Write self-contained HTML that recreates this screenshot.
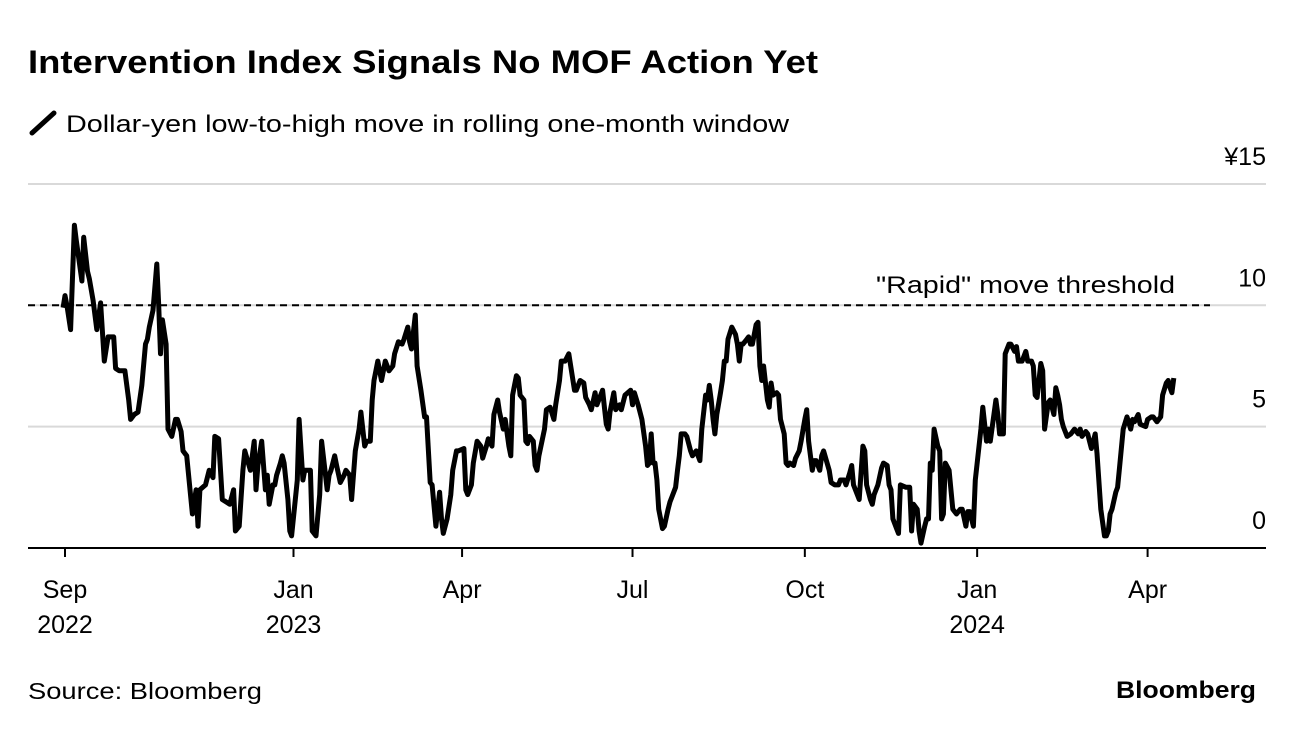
<!DOCTYPE html>
<html><head><meta charset="utf-8">
<style>
body{margin:0;background:#fff;font-family:"Liberation Sans",Arial,sans-serif;}
svg text{font-family:"Liberation Sans",Arial,sans-serif;}
</style></head>
<body>
<svg id="chart" width="1296" height="732" viewBox="0 0 1296 732">
<text x="28" y="73" font-size="32" font-weight="bold" fill="#000" textLength="790" lengthAdjust="spacingAndGlyphs">Intervention Index Signals No MOF Action Yet</text>
<g>
<line x1="32" y1="133" x2="54" y2="113" stroke="#000" stroke-width="5" stroke-linecap="round"/>
<text x="66" y="132" font-size="24" fill="#000" textLength="723" lengthAdjust="spacingAndGlyphs">Dollar-yen low-to-high move in rolling one-month window</text>
</g>
<g id="grid"></g>
<g id="yticks"></g>
<g id="xticks"></g>
<line x1="28" y1="305" x2="1210" y2="305" stroke="#000" stroke-width="2" stroke-dasharray="7,5" id="thr"/>
<text x="876" y="293" font-size="24" fill="#000" textLength="299" lengthAdjust="spacingAndGlyphs">"Rapid" move threshold</text>
<path id="series" fill="none" stroke="#000" stroke-width="5" stroke-linejoin="round"/>
<line x1="28" y1="548" x2="1266" y2="548" stroke="#000" stroke-width="2"/>
<text x="28" y="699" font-size="23" fill="#000" textLength="234" lengthAdjust="spacingAndGlyphs">Source: Bloomberg</text>
<text x="1256" y="698" font-size="24" font-weight="bold" text-anchor="end" fill="#000" textLength="140" lengthAdjust="spacingAndGlyphs">Bloomberg</text>
</svg>
<script>
// days since 2022-09-01
const days=[-1,0,1,3,5,6,9,10,12,13,15,17,19,21,22,23,26,27,29,32,34,35,37,39,41,43,44,45,47,49,50,51,52,54,55,57,59,60,62,63,65,67,68,70,71,72,75,77,79,80,82,84,86,88,90,91,93,95,96,99,101,102,103,105,107,108,109,111,112,113,115,116,117,119,120,121,124,125,127,128,131,132,134,136,137,140,141,142,144,145,147,149,150,152,153,155,157,158,160,161,163,164,165,167,169,171,173,175,176,178,180,181,183,184,185,187,188,190,192,193,195,196,198,200,201,202,204,206,207,209,210,213,214,215,217,218,220,222,223,225,226,228,229,231,232,234,235,237,238,239,240,241,242,243,245,246,247,248,250,251,252,253,256,257,259,261,262,264,265,267,269,270,272,273,275,277,278,280,281,283,284,285,287,288,289,290,291,293,294,296,297,299,302,303,304,306,308,310,311,312,313,314,315,316,317,319,320,322,323,324,326,327,328,329,331,332,334,335,337,338,339,340,342,343,344,345,346,347,348,350,351,352,353,354,356,358,359,360,361,362,364,365,366,367,369,370,371,372,373,375,376,377,378,380,381,382,384,385,386,387,389,390,392,393,395,396,397,399,400,401,403,404,405,408,409,411,413,414,416,417,419,420,421,423,424,426,427,428,430,431,432,434,436,437,439,440,441,442,444,445,446,449,450,451,452,453,455,456,457,459,460,461,462,463,464,466,467,468,469,470,472,474,476,478,479,481,482,483,485,486,489,490,492,493,494,497,498,499,501,502,504,505,507,508,509,511,513,514,516,517,518,519,521,522,523,525,526,528,529,530,531,532,533,535,537,538,539,541,542,543,545,546,547,548,550,551,553,555,556,557,558,559,561,562,563,565,567,569,570,571,573,574,577,578,580,581,583,585,586,588,589,590,591,592];
const values=[9.9,10.4,10.0,9.0,13.3,12.7,11.0,12.8,11.4,11.1,10.2,9.0,10.1,7.7,8.2,8.7,8.7,7.4,7.3,7.3,6.1,5.3,5.5,5.6,6.7,8.4,8.6,9.1,9.8,11.7,10.0,8.0,9.4,8.4,4.9,4.6,5.3,5.3,4.8,4.0,3.8,2.2,1.4,2.4,0.9,2.4,2.6,3.2,2.9,4.6,4.5,2.0,1.9,1.8,2.4,0.7,0.9,3.2,4.0,3.2,4.4,2.4,3.4,4.4,2.4,3.0,1.8,2.6,2.6,3.0,3.5,3.8,3.5,2.0,0.7,0.5,2.8,5.3,2.8,3.2,3.2,0.7,0.5,2.2,4.4,2.4,3.0,3.2,3.8,3.4,2.7,3.0,3.2,3.0,2.0,4.0,4.9,5.6,4.2,4.4,4.4,6.1,6.9,7.7,6.9,7.7,7.3,7.5,8.0,8.5,8.4,8.6,9.1,8.5,8.2,9.6,7.5,6.5,5.4,5.4,2.7,2.6,0.9,2.3,1.2,0.6,1.2,2.2,3.2,4.0,4.0,4.1,2.4,2.2,2.6,3.5,4.4,4.2,3.7,4.2,4.5,4.2,5.5,6.1,5.6,4.9,5.3,4.2,3.8,6.3,6.7,7.1,7.0,6.3,6.1,4.4,4.3,4.6,4.4,3.4,3.2,3.8,4.9,5.7,5.8,5.3,5.9,6.9,7.7,7.7,8.0,7.5,6.5,6.5,6.9,6.8,6.2,5.9,5.7,6.4,5.9,6.1,6.5,5.8,5.1,4.9,5.6,6.4,5.7,5.9,5.7,6.3,6.5,5.9,6.4,5.9,5.3,4.2,3.4,3.5,4.7,3.5,3.5,2.8,1.6,0.8,0.9,1.6,1.9,2.1,2.5,3.2,3.8,4.7,4.7,4.6,4.0,3.8,4.0,3.8,3.6,4.9,6.3,6.1,6.7,6.1,5.3,4.7,5.5,6.4,6.9,7.7,7.7,8.6,9.1,8.8,8.4,7.7,8.4,8.4,8.6,8.7,8.4,8.4,9.2,9.3,7.5,6.9,7.5,6.1,5.8,6.8,6.3,6.4,6.3,5.3,4.7,3.5,3.4,3.5,3.4,3.7,4.0,4.4,5.3,5.7,4.4,3.2,3.6,3.6,3.2,3.8,4.0,3.2,2.7,2.6,2.6,2.8,2.8,2.6,3.1,3.4,2.6,2.2,2.0,4.2,4.0,2.6,2.0,1.8,2.2,2.6,3.3,3.5,3.4,2.6,2.4,1.2,0.8,0.6,2.6,2.5,2.5,2.5,0.7,1.8,1.6,0.7,0.2,0.9,1.2,1.2,3.5,3.2,4.9,4.2,4.0,1.2,1.4,3.5,3.2,1.6,1.4,1.6,1.6,0.9,1.5,1.5,0.9,2.8,4.9,5.8,4.4,4.9,4.4,6.1,5.5,4.7,4.7,8.0,8.4,8.4,8.1,8.3,7.7,7.7,8.1,7.7,7.7,7.5,6.3,6.2,7.6,7.3,4.9,6.0,6.1,5.5,6.6,6.3,5.9,5.3,5.0,4.6,4.7,4.8,4.9,4.7,4.9,4.6,4.8,4.7,4.4,4.1,4.7,3.9,1.6,0.5,0.5,0.7,1.4,1.6,2.3,2.5,3.3,4.9,5.4,4.9,5.3,5.2,5.5,5.1,5.0,5.3,5.4,5.4,5.2,5.4,6.3,6.8,6.9,6.6,6.4,7.0,6.9];
const yTickValues=[0,5,10,15];
const yTickLabels=["0","5","10","¥15"];
const xTickDays=[0,122,212,303,395,487,578];
const xTickMonths=["Sep","Jan","Apr","Jul","Oct","Jan","Apr"];
const xTickYears=["2022","2023","","","","2024",""];
const threshold=10;

const NS="http://www.w3.org/2000/svg";
function x(d){return 65+d*1.873;}
function y(v){return 548-v*24.27;}
function mk(tag,attrs,parent){const e=document.createElementNS(NS,tag);for(const k in attrs)e.setAttribute(k,attrs[k]);parent.appendChild(e);return e;}
const grid=document.getElementById('grid'),yt=document.getElementById('yticks'),xt=document.getElementById('xticks');
yTickValues.forEach((v,i)=>{
  if(v>0){const g=mk('line',{x1:28,x2:1266,y1:y(v),y2:y(v),stroke:'#d9d9d9','stroke-width':2},grid);
  
  }
  const t=mk('text',{x:1266,y:y(v)-19,'font-size':25,'text-anchor':'end',fill:'#000'},yt);
  t.textContent=yTickLabels[i];
  
  
});
xTickDays.forEach((d,i)=>{
  const l=mk('line',{x1:x(d),x2:x(d),y1:548,y2:557,stroke:'#000','stroke-width':2},xt);
  
  
  const t=mk('text',{x:x(d),y:598,'font-size':25,'text-anchor':'middle',fill:'#000'},xt);
  t.textContent=xTickMonths[i];
  
  
  if(xTickYears[i]){const t2=mk('text',{x:x(d),y:633,'font-size':25,'text-anchor':'middle',fill:'#000'},xt);
  t2.textContent=xTickYears[i];
  
  }
});
const thr=document.getElementById('thr');thr.setAttribute('y1',y(threshold));thr.setAttribute('y2',y(threshold));
document.getElementById('series').setAttribute('d',days.map((d,i)=>(i?'L':'M')+x(d).toFixed(1)+','+y(values[i]).toFixed(1)).join(''));
</script>
</body></html>
